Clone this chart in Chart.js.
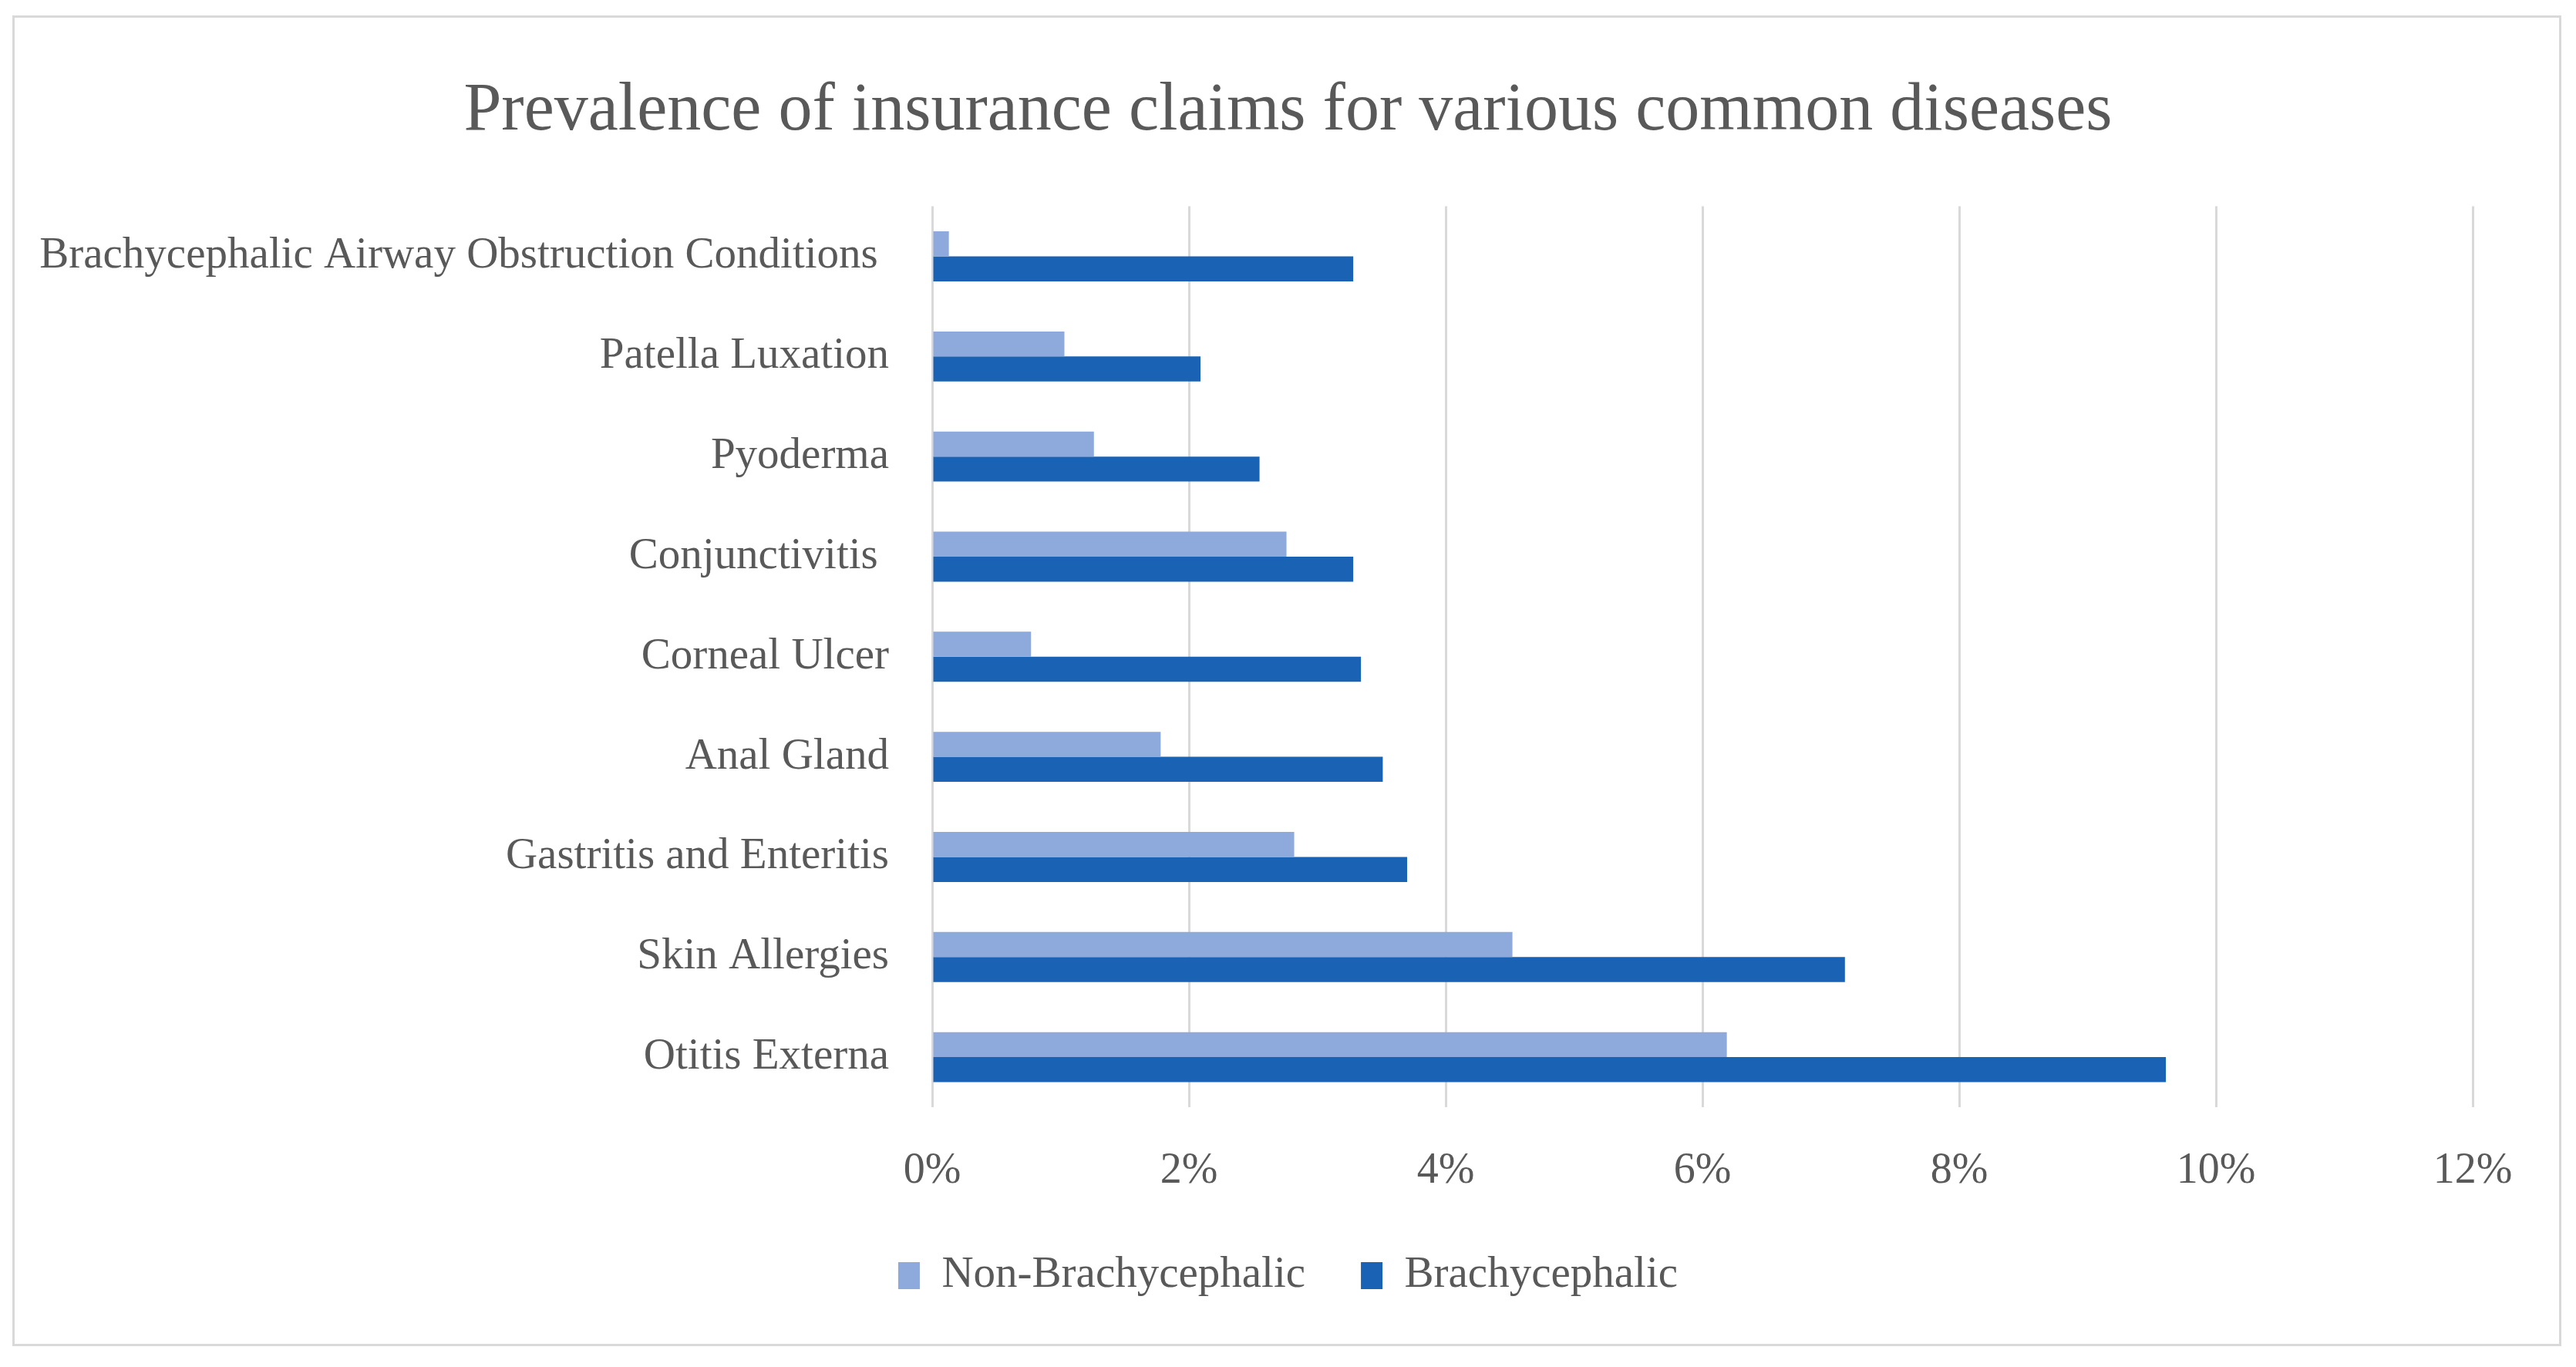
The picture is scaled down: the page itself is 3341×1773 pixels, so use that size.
<!DOCTYPE html>
<html>
<head>
<meta charset="utf-8">
<script src="https://cdn.jsdelivr.net/npm/chart.js@4.4.1/dist/chart.umd.min.js"></script>
<style>
  html, body { margin: 0; padding: 0; background: #ffffff; }
  #frame { position: absolute; left: 16px; top: 20px; width: 3306px; height: 1726px; border: 3px solid #d9d9d9; box-sizing: border-box; }
  #wrap { position: absolute; left: 0; top: 0; width: 3341px; height: 1773px; }
</style>
</head>
<body>
<div id="frame"></div>
<div id="wrap"><canvas id="c" width="3341" height="1773"></canvas></div>
<script>
const chartTitle = "Prevalence of insurance claims for various common diseases";
const categories = [
  "Brachycephalic Airway Obstruction Conditions ",
  "Patella Luxation",
  "Pyoderma",
  "Conjunctivitis ",
  "Corneal Ulcer",
  "Anal Gland",
  "Gastritis and Enteritis",
  "Skin Allergies",
  "Otitis Externa"
];
const seriesNames = ["Non-Brachycephalic", "Brachycephalic"];
const nonBrachycephalic = [0.13, 1.03, 1.26, 2.76, 0.77, 1.78, 2.82, 4.52, 6.19];
const brachycephalic = [3.28, 2.09, 2.55, 3.28, 3.34, 3.51, 3.70, 7.11, 9.61];
const xTicks = [0, 2, 4, 6, 8, 10, 12];

const FONT = "'Liberation Serif', 'Times New Roman', serif";
const TEXT = "#595959";

new Chart(document.getElementById('c'), {
  type: 'bar',
  data: {
    labels: categories,
    datasets: [
      { label: seriesNames[0], data: nonBrachycephalic, backgroundColor: '#8EA9DB', borderWidth: 0 },
      { label: seriesNames[1], data: brachycephalic, backgroundColor: '#1A62B3', borderWidth: 0 }
    ]
  },
  options: {
    indexAxis: 'y',
    responsive: false,
    animation: false,
    devicePixelRatio: 1,
    categoryPercentage: 0.5,
    barPercentage: 1.0,
    layout: { padding: { left: 30, right: 30, top: 0, bottom: 80 } },
    plugins: {
      title: {
        display: true,
        text: chartTitle,
        color: TEXT,
        font: { family: FONT, size: 88, weight: 'normal' },
        padding: { top: 92, bottom: 70 }
      },
      legend: {
        display: true,
        position: 'bottom',
        labels: {
          color: TEXT,
          font: { family: FONT, size: 57 },
          boxWidth: 28,
          boxHeight: 35,
          padding: 72
        }
      },
      tooltip: { enabled: false }
    },
    scales: {
      x: {
        min: 0,
        max: 12,
        afterBuildTicks: (scale) => { scale.ticks = xTicks.map(v => ({ value: v })); },
        ticks: {
          color: TEXT,
          font: { family: FONT, size: 56 },
          padding: 50,
          callback: (v) => v + '%'
        },
        grid: { color: '#d9d9d9', lineWidth: 3, drawTicks: false },
        border: { display: false },
        afterFit: (scale) => { scale.height = 118; }
      },
      y: {
        ticks: {
          color: TEXT,
          font: { family: FONT, size: 57 },
          padding: 56
        },
        grid: { display: false, drawTicks: false },
        border: { display: false },
        afterFit: (scale) => { scale.width = 1179; }
      },
      spacer: {
        type: 'linear',
        position: 'right',
        display: true,
        ticks: { display: false },
        grid: { display: false, drawTicks: false },
        border: { display: false },
        afterFit: (scale) => { scale.width = 104; }
      }
    }
  }
});
</script>
</body>
</html>
